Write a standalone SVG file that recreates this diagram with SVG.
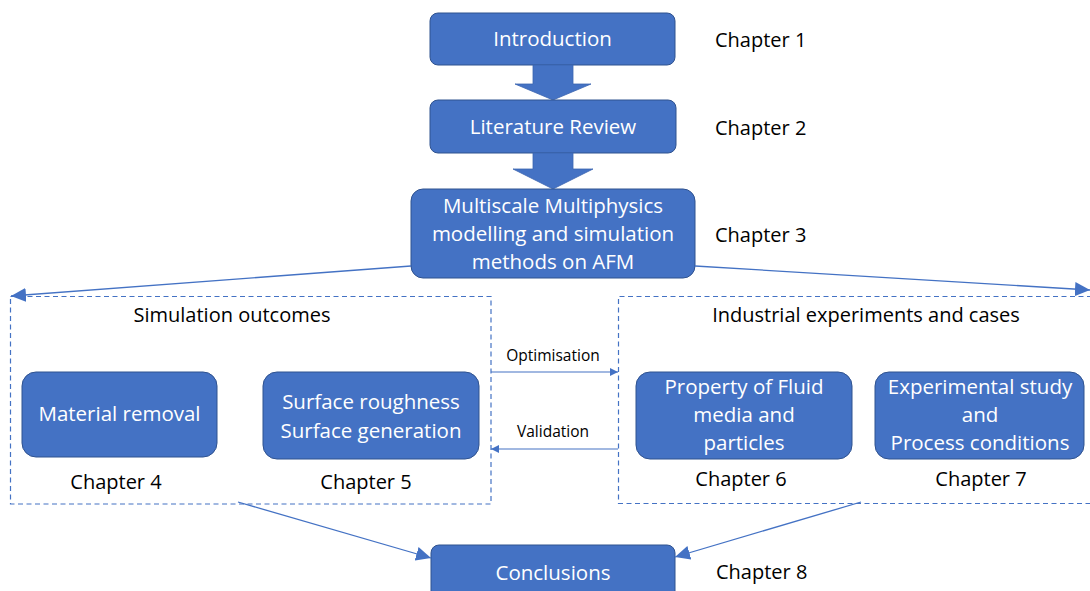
<svg xmlns="http://www.w3.org/2000/svg" width="1090" height="591" viewBox="0 0 1090 591">
  <defs>
    <marker id="head-lg" markerUnits="userSpaceOnUse" markerWidth="16" markerHeight="14" refX="15" refY="7" orient="auto">
      <path d="M0,0 L15,7 L0,14 Z" fill="#4472C4"/>
    </marker>
    <marker id="head-sm" markerUnits="userSpaceOnUse" markerWidth="9" markerHeight="8" refX="8" refY="4" orient="auto">
      <path d="M0,0 L8,4 L0,8 Z" fill="#4472C4"/>
    </marker>
  </defs>
  <style>
    .box { fill: #4472C4; stroke: #2F528F; stroke-width: 1; }
    .block { fill: #4472C4; stroke: #3B65B0; stroke-width: 0.8; }
    .frame { fill: none; stroke: #4472C4; stroke-width: 1.2; stroke-dasharray: 5 3.5; }
    .wt { font-family: "Open Sans", "DejaVu Sans", sans-serif; font-size: 20.5px; fill: #FFFFFF; text-anchor: middle; }
    .bk { font-family: "Open Sans", "DejaVu Sans", sans-serif; font-size: 20px; fill: #000000; }
    .bkc { text-anchor: middle; }
    .sm { font-family: "Open Sans", "DejaVu Sans", sans-serif; font-size: 15.5px; fill: #000000; text-anchor: middle; }
    .link { fill: none; stroke: #4472C4; stroke-width: 1.3; }
    .link-thin { fill: none; stroke: #4472C4; stroke-width: 1.1; }
  </style>

  <!-- main chain -->
  <g id="introduction">
    <rect class="box" x="430" y="13" width="245" height="52" rx="8"/>
    <text class="wt" x="552.5" y="46">Introduction</text>
  </g>
  <g id="arrow-intro-review">
    <polygon class="block" points="533,65 573,65 573,84 591,84 553,100 515,84 533,84"/>
  </g>
  <g id="literature-review">
    <rect class="box" x="430" y="100" width="246" height="53" rx="8"/>
    <text class="wt" x="553" y="134">Literature Review</text>
  </g>
  <g id="arrow-review-methods">
    <polygon class="block" points="533,153 573,153 573,169 593,169 553,189 513,169 533,169"/>
  </g>
  <g id="methods">
    <rect class="box" x="411" y="189" width="284" height="89" rx="12"/>
    <text class="wt" x="553" y="213">Multiscale Multiphysics</text>
    <text class="wt" x="553" y="241">modelling and simulation</text>
    <text class="wt" x="553" y="269">methods on AFM</text>
  </g>

  <!-- chapter labels -->
  <g id="chapter-labels">
    <text class="bk" x="715" y="47">Chapter 1</text>
    <text class="bk" x="715" y="135">Chapter 2</text>
    <text class="bk" x="715" y="242">Chapter 3</text>
    <text class="bk" x="716" y="579">Chapter 8</text>
  </g>

  <!-- simulation outcomes -->
  <g id="simulation-outcomes">
    <rect class="frame" x="10.5" y="296.5" width="480.5" height="207.5"/>
    <text class="bk bkc" x="232" y="322">Simulation outcomes</text>
  </g>
  <g id="material-removal">
    <rect class="box" x="22" y="372" width="195" height="85" rx="14"/>
    <text class="wt" x="119.5" y="421">Material removal</text>
    <text class="bk bkc" x="116" y="489">Chapter 4</text>
  </g>
  <g id="surface">
    <rect class="box" x="263" y="372" width="216" height="87" rx="14"/>
    <text class="wt" x="371" y="409">Surface roughness</text>
    <text class="wt" x="371" y="438">Surface generation</text>
    <text class="bk bkc" x="366" y="489">Chapter 5</text>
  </g>

  <!-- industrial experiments -->
  <g id="industrial-experiments">
    <path class="frame" d="M1092,296.5 H618.5 V503.5 H1092"/>
    <text class="bk bkc" x="866" y="322">Industrial experiments and cases</text>
  </g>
  <g id="fluid-media">
    <rect class="box" x="636" y="372" width="216" height="87" rx="14"/>
    <text class="wt" x="744" y="394">Property of Fluid</text>
    <text class="wt" x="744" y="422">media and</text>
    <text class="wt" x="744" y="450">particles</text>
    <text class="bk bkc" x="741" y="486">Chapter 6</text>
  </g>
  <g id="experimental-study">
    <rect class="box" x="875" y="372" width="209" height="87" rx="14"/>
    <text class="wt" x="980" y="394">Experimental study</text>
    <text class="wt" x="980" y="422">and</text>
    <text class="wt" x="980" y="450">Process conditions</text>
    <text class="bk bkc" x="981" y="486">Chapter 7</text>
  </g>

  <g id="conclusions">
    <rect class="box" x="431" y="545" width="244" height="60" rx="8"/>
    <text class="wt" x="553" y="580">Conclusions</text>
  </g>

  <!-- connectors -->
  <g id="connectors">
    <line class="link" x1="411" y1="266" x2="11" y2="296" marker-end="url(#head-lg)"/>
    <line class="link" x1="695" y1="266" x2="1090" y2="290" marker-end="url(#head-lg)"/>
    <line class="link-thin" x1="491" y1="372" x2="618" y2="372" marker-end="url(#head-sm)"/>
    <text class="sm" x="553" y="361">Optimisation</text>
    <line class="link-thin" x1="618" y1="449" x2="491" y2="449" marker-end="url(#head-sm)"/>
    <text class="sm" x="553" y="437">Validation</text>
    <line class="link" x1="238" y1="502" x2="431" y2="558" marker-end="url(#head-lg)"/>
    <line class="link" x1="861" y1="502" x2="675" y2="557" marker-end="url(#head-lg)"/>
  </g>
</svg>
